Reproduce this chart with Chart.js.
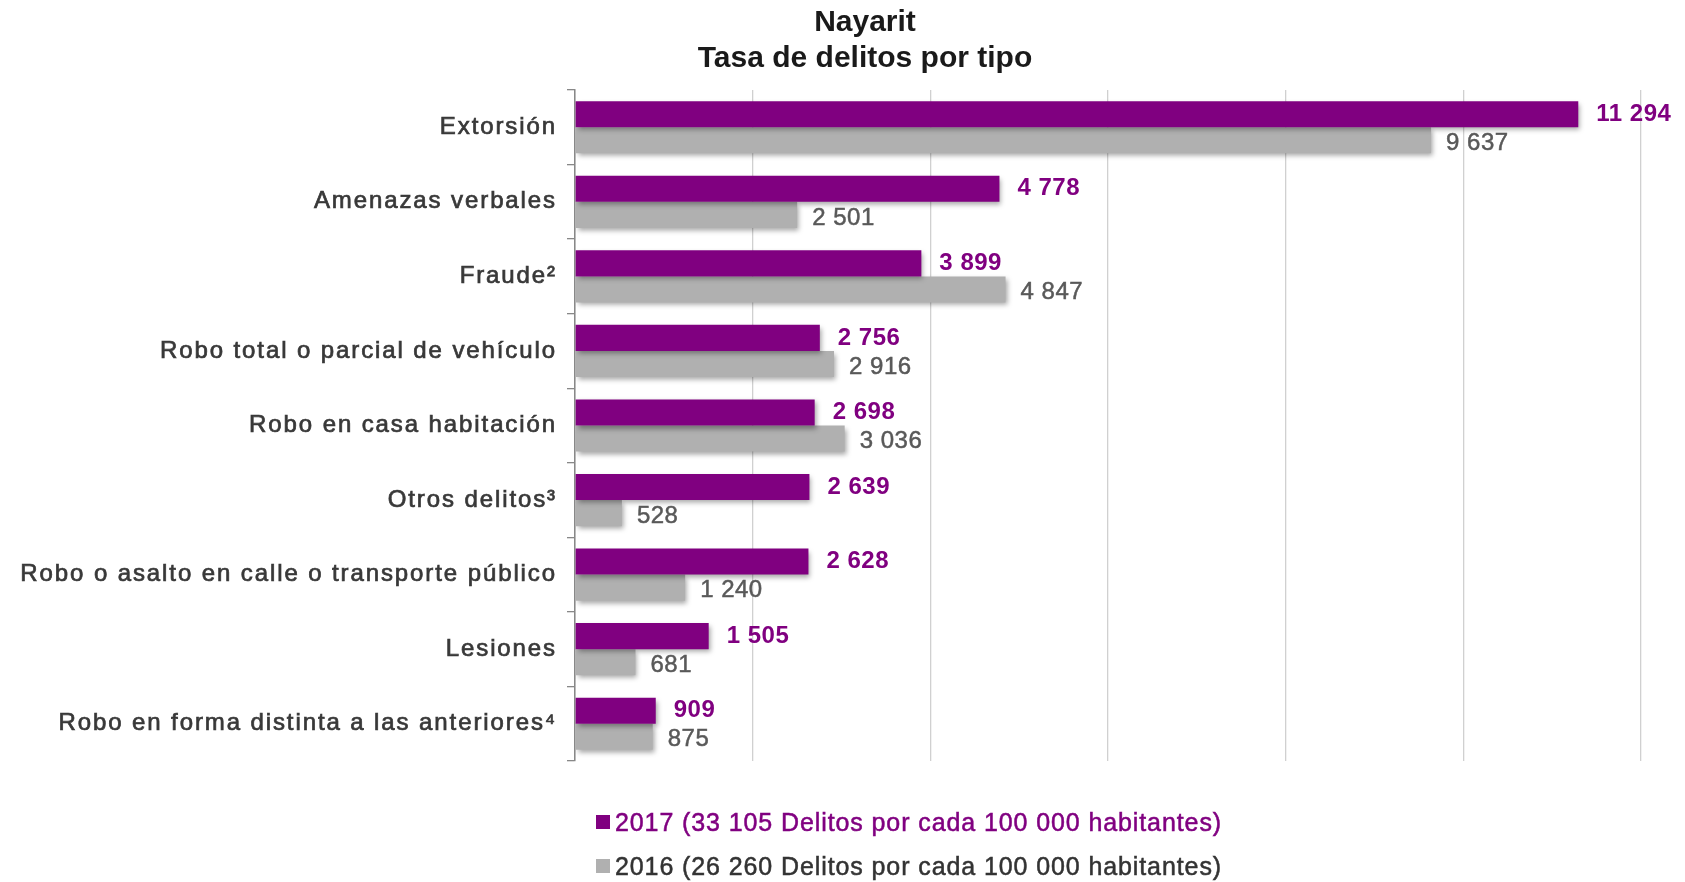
<!DOCTYPE html>
<html>
<head>
<meta charset="utf-8">
<script src="https://cdn.jsdelivr.net/npm/chart.js@4/dist/chart.umd.min.js"></script>
<style>
  html, body { margin: 0; padding: 0; background: #fff; }
  #wrap { position: relative; width: 1685px; height: 882px; }
  #title { position: absolute; left: 515px; width: 700px; top: 3px; text-align: center;
    font-family: "Liberation Sans", Arial, sans-serif; font-weight: bold; font-size: 30px; line-height: 36px; color: #1a1a1a; }
  #legend { position: absolute; left: 596px; top: 800px; font-family: "Liberation Sans", Arial, sans-serif; font-size: 25px; letter-spacing: 0.9px; -webkit-text-stroke: 0.5px; }
  .li { display: flex; align-items: center; height: 44px; }
  .sw { width: 14px; height: 14px; margin-right: 5px; }
</style>
</head>
<body>
<div id="wrap">
  <canvas id="c" width="1685" height="882"></canvas>
  <div id="title"></div>
  <div id="legend"></div>
</div>
<script>
const titleLines = ['Nayarit', 'Tasa de delitos por tipo'];
const categories = ['Extorsión', 'Amenazas verbales', 'Fraude²', 'Robo total o parcial de vehículo',
  'Robo en casa habitación', 'Otros delitos³', 'Robo o asalto en calle o transporte público',
  'Lesiones', 'Robo en forma distinta a las anteriores⁴'];
const values2017 = [11294, 4778, 3899, 2756, 2698, 2639, 2628, 1505, 909];
const values2016 = [9637, 2501, 4847, 2916, 3036, 528, 1240, 681, 875];
const seriesLabels = ['2017 (33 105 Delitos por cada 100 000 habitantes)', '2016 (26 260 Delitos por cada 100 000 habitantes)'];
const xTicks = [0, 2000, 4000, 6000, 8000, 10000, 12000];

const colors = ['#800080', '#b0b0b0'];
const labelColors = ['#800080', '#595959'];
const legendTextColors = ['#800080', '#333333'];
const FONT = '"Liberation Sans", Arial, sans-serif';

function fmt(v) { return String(v).replace(/\B(?=(\d{3})+(?!\d))/g, ' '); }

document.getElementById('title').innerHTML = titleLines.join('<br>');
const lg = document.getElementById('legend');
seriesLabels.forEach((t, i) => {
  const d = document.createElement('div'); d.className = 'li';
  const s = document.createElement('span'); s.className = 'sw'; s.style.background = colors[i];
  const tx = document.createElement('span'); tx.textContent = t; tx.style.color = legendTextColors[i];
  d.appendChild(s); d.appendChild(tx); lg.appendChild(d);
});

const shadowAndLabels = {
  id: 'shadowAndLabels',
  beforeDraw(chart) {
    chart.ctx.letterSpacing = '1.9px';
  },
  beforeDatasetsDraw(chart) {
    const ctx = chart.ctx;
    ctx.save();
    ctx.shadowColor = 'rgba(0,0,0,0.35)';
    ctx.shadowBlur = 5;
    ctx.shadowOffsetX = 2;
    ctx.shadowOffsetY = 3;
  },
  afterDatasetsDraw(chart) {
    const ctx = chart.ctx;
    ctx.restore();
    ctx.save();
    ctx.letterSpacing = '0.5px';
    chart.data.datasets.forEach((ds, di) => {
      const meta = chart.getDatasetMeta(di);
      meta.data.forEach((bar, i) => {
        ctx.font = (di === 0 ? 'bold ' : '') + '24px ' + FONT;
        ctx.fillStyle = labelColors[di];
        ctx.strokeStyle = labelColors[di];
        ctx.lineWidth = 0.5;
        ctx.textAlign = 'left';
        ctx.textBaseline = 'middle';
        const off = di === 0 ? 18 : 15;
        const y = bar.y + (di === 0 ? 0 : 3);
        ctx.fillText(fmt(ds.data[i]), bar.x + off, y);
        if (di === 1) ctx.strokeText(fmt(ds.data[i]), bar.x + off, y);
      });
    });
    ctx.restore();
  }
};

new Chart(document.getElementById('c'), {
  type: 'bar',
  data: {
    labels: categories,
    datasets: [
      { label: seriesLabels[0], data: values2017, backgroundColor: colors[0], barPercentage: 1, categoryPercentage: 0.7 },
      { label: seriesLabels[1], data: values2016, backgroundColor: colors[1], barPercentage: 1, categoryPercentage: 0.7 }
    ]
  },
  options: {
    indexAxis: 'y',
    responsive: false,
    animation: false,
    layout: { padding: { top: 90, bottom: 121, right: 44, left: 0 } },
    plugins: { legend: { display: false }, title: { display: false }, tooltip: { enabled: false } },
    scales: {
      x: {
        min: 0, max: 12000,
        afterBuildTicks(scale) { scale.ticks = xTicks.map(v => ({ value: v })); },
        ticks: { display: false },
        grid: { color: '#d0d0d0', lineWidth: 1.3, drawTicks: false },
        border: { display: false }
      },
      y: {
        afterFit(scale) { scale.width = 575; },
        ticks: { color: '#383838', font: { family: FONT, size: 24 }, padding: 10,
                 textStrokeColor: '#383838', textStrokeWidth: 0.7 },
        grid: { drawOnChartArea: false, color: '#888', tickLength: 8, lineWidth: 1.3 },
        border: { color: '#888', width: 1.5 }
      }
    }
  },
  plugins: [shadowAndLabels]
});
</script>
</body>
</html>
